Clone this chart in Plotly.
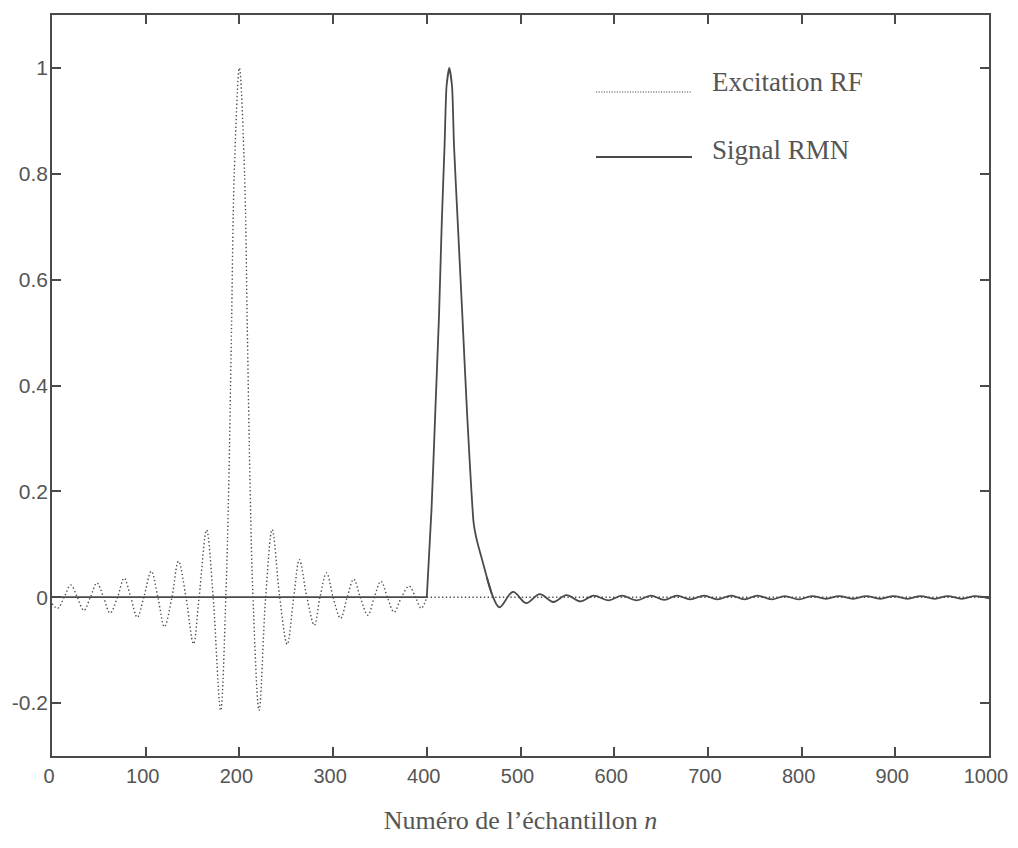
import plotly.graph_objects as go

# Excitation RF (sinc pulse) (extrema and zero crossings)
exc_n = [0, 6, 13, 20, 27, 34, 41, 48, 55, 62, 70, 77, 84, 91, 98, 106, 113, 120, 128, 135,
         143, 151, 157, 165, 172, 180, 185.5, 188.5, 191.5, 194.5, 200, 205.5, 208.5, 211.5,
         214.5, 221, 228, 235, 243, 251, 258, 264, 272, 280, 286, 293, 300, 308, 315, 322,
         329, 337, 344, 351, 358, 365, 373, 381, 388, 394, 400]
exc_val = [-0.012, -0.021, 0, 0.023, 0, -0.025, 0, 0.027, 0, -0.030, 0, 0.036, 0, -0.038, 0,
           0.049, 0, -0.056, 0, 0.068, 0, -0.088, 0, 0.127, 0, -0.214, 0, 0.2, 0.5, 0.8, 1.0,
           0.8, 0.5, 0.2, 0, -0.214, 0, 0.128, 0, -0.089, 0, 0.071, 0, -0.053, 0, 0.046, 0,
           -0.040, 0, 0.034, 0, -0.034, 0, 0.030, 0, -0.028, 0, 0.021, 0, -0.021, 0]
# Excitation after the pulse (flat)
exc_tail_n = [400, 1000]
exc_tail_val = [0, 0]

# Signal RMN
sig_flat_n = [0, 400]
sig_flat_val = [0, 0]
sig_peak_n = [400, 405, 409, 413, 416, 419, 421, 424, 427, 429, 433, 438, 443, 450, 453.5,
              459, 464, 469.5]
sig_peak_val = [0, 0.165, 0.347, 0.53, 0.709, 0.855, 0.964, 1.0, 0.964, 0.855, 0.709, 0.53,
                0.347, 0.14, 0.107, 0.071, 0.038, 0.006]
sig_ring_n = [464, 469.5, 477.5, 492, 506, 520.5, 535, 549, 564, 578, 594, 608, 624, 639,
              653.5, 667, 681, 696, 710, 725, 739, 753, 768, 782, 797, 811, 826, 840, 855, 869,
              884, 898, 913, 927, 942, 956, 971, 985, 1000]
sig_ring_val = [0.038, 0.006, -0.019, 0.010, -0.011, 0.006, -0.009, 0.004, -0.008, 0.003,
                -0.006, 0.003, -0.006, 0.003, -0.005, 0.003, -0.004, 0.003, -0.004, 0.003,
                -0.004, 0.003, -0.004, 0.002, -0.004, 0.002, -0.003, 0.002, -0.003, 0.002,
                -0.003, 0.002, -0.003, 0.002, -0.003, 0.002, -0.003, 0.002, -0.002]

x_ticks = [0, 100, 200, 300, 400, 500, 600, 700, 800, 900, 1000]
y_ticks = [-0.2, 0, 0.2, 0.4, 0.6, 0.8, 1]
y_tick_text = ["-0.2", "0", "0.2", "0.4", "0.6", "0.8", "1"]

legend_names = ["Excitation RF", "Signal RMN"]
x_title = "Numéro de l’échantillon <i>n</i>"

LINE = "#4a4a4a"
DOT = "#4f4f4f"
TXT = "#555555"
DOTDASH = "1.4px,2.4px"

fig = go.Figure()
fig.add_trace(go.Scatter(x=exc_n, y=exc_val, mode="lines", name=legend_names[0],
                         line=dict(color=DOT, width=1.4, dash=DOTDASH,
                                   shape="spline", smoothing=1.0),
                         showlegend=False))
fig.add_trace(go.Scatter(x=exc_tail_n, y=exc_tail_val, mode="lines", name=legend_names[0],
                         line=dict(color=DOT, width=1.4, dash=DOTDASH),
                         showlegend=False))
fig.add_trace(go.Scatter(x=sig_flat_n, y=sig_flat_val, mode="lines", name=legend_names[1],
                         line=dict(color=LINE, width=1.8), showlegend=False))
fig.add_trace(go.Scatter(x=sig_peak_n, y=sig_peak_val, mode="lines", name=legend_names[1],
                         line=dict(color=LINE, width=1.8, shape="spline", smoothing=0.5),
                         showlegend=False))
fig.add_trace(go.Scatter(x=sig_ring_n, y=sig_ring_val, mode="lines", name=legend_names[1],
                         line=dict(color=LINE, width=1.8, shape="spline", smoothing=1.0),
                         showlegend=False))

axis_common = dict(showline=True, mirror="ticks", linecolor=LINE, linewidth=1.5,
                   ticks="inside", ticklen=9, tickwidth=1.5, tickcolor=LINE,
                   showgrid=False, zeroline=False, ticklabeloverflow="allow")

fig.update_xaxes(range=[0, 1000], tickvals=x_ticks, ticklabelstandoff=1, ticklabelshift=-3,
                 tickfont=dict(family="Liberation Sans, Arial, sans-serif", size=20, color=TXT),
                 title=dict(text=x_title, standoff=25,
                            font=dict(family="Liberation Serif, Times New Roman, serif",
                                      size=26, color=TXT)),
                 **axis_common)
fig.update_yaxes(range=[-0.3, 1.1], tickvals=y_ticks, ticktext=y_tick_text,
                 ticklabelstandoff=-2,
                 tickfont=dict(family="Liberation Sans, Arial, sans-serif", size=21, color=TXT),
                 **axis_common)

# Manual legend (long sample lines as in the original); page pixel -> paper coords
def px_to_paper_x(px):
    return (px - 52) / (989 - 52)

def px_to_paper_y(py):
    return (756 - py) / (756 - 15)

fig.add_shape(type="line", xref="paper", yref="paper",
              x0=px_to_paper_x(596), x1=px_to_paper_x(692),
              y0=px_to_paper_y(92), y1=px_to_paper_y(92),
              line=dict(color=DOT, width=1.2, dash="1.2px,1.4px"))
fig.add_shape(type="line", xref="paper", yref="paper",
              x0=px_to_paper_x(596), x1=px_to_paper_x(692),
              y0=px_to_paper_y(157), y1=px_to_paper_y(157),
              line=dict(color=LINE, width=1.8))
fig.add_annotation(xref="paper", yref="paper", x=px_to_paper_x(710), y=px_to_paper_y(82),
                   xanchor="left", yanchor="middle", showarrow=False, text=legend_names[0],
                   font=dict(family="Liberation Serif, Times New Roman, serif", size=27, color=TXT))
fig.add_annotation(xref="paper", yref="paper", x=px_to_paper_x(710), y=px_to_paper_y(150),
                   xanchor="left", yanchor="middle", showarrow=False, text=legend_names[1],
                   font=dict(family="Liberation Serif, Times New Roman, serif", size=27, color=TXT))

# The page body has an 8px margin, so the figure is offset by 8px right and down.
fig.update_layout(width=1002, height=832,
                  margin=dict(l=44, r=21, t=7, b=84, autoexpand=False),
                  plot_bgcolor="white", paper_bgcolor="white")

fig.write_html("out.html")
